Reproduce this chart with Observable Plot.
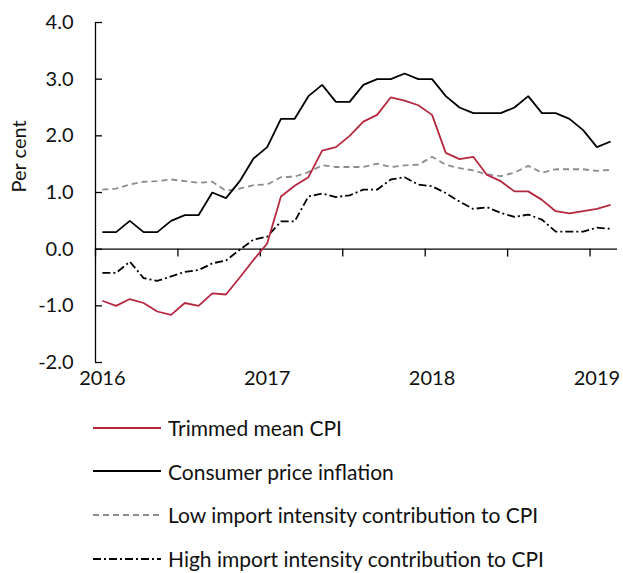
<!DOCTYPE html>
<html>
<head>
<meta charset="utf-8">
<script src="https://cdn.jsdelivr.net/npm/d3@7"></script>
<script src="https://cdn.jsdelivr.net/npm/@observablehq/plot@0.6"></script>
<style>
  body { margin: 0; background: #fff; font-family: Lato, "Open Sans", sans-serif; }
  #legend { padding-top: 6px; }
  .row { display: flex; align-items: center; height: 43.6px; }
  .row svg { margin-left: 93px; margin-right: 7px; }
  .row span { font-size: 21px; color: #111; }
</style>
</head>
<body>
<div id="chart"></div>
<div id="legend"></div>
<script>
// Monthly observations, Jan 2016 – Feb 2019 (index 0..37)
const monthIndex = d3.range(38);
const yearTicks = [0, 12, 24, 36];
const yearLabels = ["2016", "2017", "2018", "2019"];
const halfYearBounds = [-0.5, 5.5, 11.5, 17.5, 23.5, 29.5, 35.5];
const yTicks = [-2, -1, 0, 1, 2, 3, 4];

const trimmedMean = [-0.91,-1.0,-0.88,-0.95,-1.1,-1.16,-0.95,-1.0,-0.78,-0.8,-0.5,-0.19,0.1,0.93,1.12,1.27,1.74,1.8,2.0,2.25,2.37,2.68,2.62,2.54,2.37,1.7,1.59,1.63,1.31,1.2,1.02,1.02,0.87,0.67,0.63,0.67,0.71,0.78];
const cpi = [0.3,0.3,0.5,0.3,0.3,0.5,0.6,0.6,1.0,0.9,1.2,1.6,1.8,2.3,2.3,2.7,2.9,2.6,2.6,2.9,3.0,3.0,3.1,3.0,3.0,2.7,2.5,2.4,2.4,2.4,2.5,2.7,2.4,2.4,2.3,2.1,1.8,1.9];
const lowImport = [1.05,1.07,1.14,1.19,1.2,1.23,1.2,1.17,1.19,1.03,1.07,1.13,1.14,1.27,1.28,1.36,1.48,1.45,1.45,1.45,1.51,1.45,1.48,1.49,1.63,1.49,1.43,1.39,1.32,1.29,1.35,1.47,1.35,1.41,1.41,1.41,1.38,1.4];
const highImport = [-0.42,-0.42,-0.22,-0.51,-0.56,-0.48,-0.4,-0.37,-0.25,-0.2,-0.01,0.17,0.22,0.49,0.49,0.93,0.98,0.92,0.95,1.05,1.05,1.23,1.27,1.14,1.11,0.99,0.84,0.71,0.74,0.64,0.57,0.61,0.52,0.31,0.31,0.31,0.38,0.36];

const seriesNames = ["Trimmed mean CPI", "Consumer price inflation", "Low import intensity contribution to CPI", "High import intensity contribution to CPI"];
const seriesStyles = [
  {stroke: "#b5283f", dash: null, width: 1.8},
  {stroke: "#000000", dash: null, width: 1.8},
  {stroke: "#8c8c8c", dash: "6,4", width: 1.8},
  {stroke: "#000000", dash: "8,3,2,3", width: 1.8}
];
const seriesValues = [trimmedMean, cpi, lowImport, highImport];

const W = 623, H = 400, ML = 95, MR = 6;
const plotW = W - ML - MR;

const lineMarks = [2, 3, 0, 1].map(k => Plot.line(monthIndex, {
  x: d => d, y: d => seriesValues[k][d],
  stroke: seriesStyles[k].stroke, strokeWidth: seriesStyles[k].width,
  strokeDasharray: seriesStyles[k].dash, strokeLinejoin: "miter", strokeLinecap: "butt"
}));

const chart = Plot.plot({
  width: W, height: H,
  marginLeft: ML, marginRight: MR, marginTop: 22, marginBottom: 38,
  style: {fontFamily: "Lato, 'Open Sans', sans-serif", fontSize: "20px", color: "#111", background: "#fff"},
  x: {type: "linear", domain: [-0.5, 37.5], axis: null},
  y: {domain: [-2, 4], axis: null},
  marks: [
    // y axis line and inward ticks
    Plot.ruleX([-0.5], {y1: -2, y2: 4, stroke: "#000", strokeWidth: 1.3}),
    Plot.ruleY(yTicks, {y: d => d, insetRight: plotW - 7, stroke: "#000", strokeWidth: 1.3}),
    Plot.text(yTicks, {y: d => d, frameAnchor: "left", dx: -22, textAnchor: "end", text: d => d.toFixed(1), fill: "#111", fontSize: 20}),
    Plot.text(["Per cent"], {frameAnchor: "left", dx: -76, rotate: -90, text: d => d, fill: "#111", fontSize: 20}),
    // x axis at zero with downward ticks at half-year boundaries
    Plot.ruleY([0], {stroke: "#000", strokeWidth: 1.3}),
    Plot.ruleX(halfYearBounds, {x: d => d, y1: 0, y2: -0.14, stroke: "#000", strokeWidth: 1.3}),
    Plot.text(yearTicks, {x: d => d, frameAnchor: "bottom", dy: 22, text: (d, i) => yearLabels[i], fill: "#111", fontSize: 20}),
    ...lineMarks
  ]
});
document.getElementById("chart").appendChild(chart);

// Legend below the chart
const legend = d3.select("#legend");
seriesNames.forEach((name, k) => {
  const row = legend.append("div").attr("class", "row");
  const s = row.append("svg").attr("width", 68).attr("height", 10);
  s.append("line").attr("x1", 0).attr("x2", 68).attr("y1", 5).attr("y2", 5)
    .attr("stroke", seriesStyles[k].stroke).attr("stroke-width", 1.8)
    .attr("stroke-dasharray", seriesStyles[k].dash);
  row.append("span").text(name);
});
</script>
</body>
</html>
